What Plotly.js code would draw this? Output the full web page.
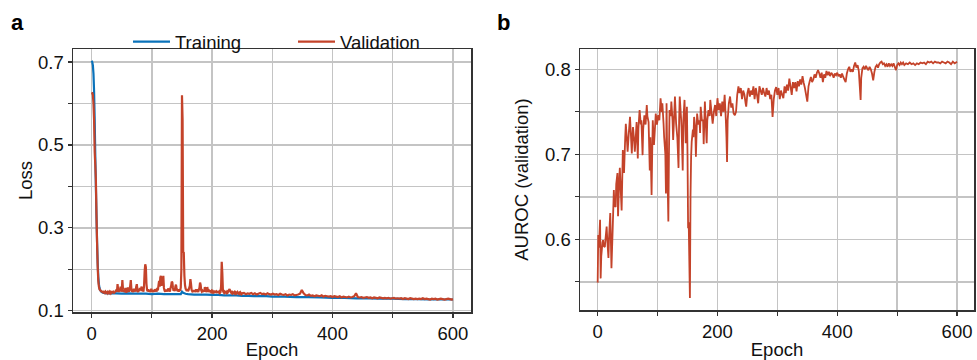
<!DOCTYPE html>
<html>
<head>
<meta charset="utf-8">
<script src="https://cdn.plot.ly/plotly-3.0.1.min.js"></script>
<style>html,body{margin:0;padding:0;background:#fff;}#chart{width:977px;height:360px;}</style>
</head>
<body>
<div id="chart"></div>
<script>
function epochRange(a, b, step) { const r = []; for (let e = a; e <= b; e += step) r.push(e); return r; }

// ---- Panel a: loss ----
const trainEpoch = [0,1,2,3,4,5,6,7,8,9,10,11,12,13,14,16,18,20,25,30,40,50,60,70,80,90,100,110,120,130,140,148,150,152,156,160,170,180,190,200,210,220,230,240,250,260,270,280,290,300,320,340,360,380,400,420,440,460,480,500,520,540,560,580,600];
const trainLoss = [0.703,0.700,0.692,0.672,0.630,0.560,0.475,0.400,0.330,0.265,0.215,0.182,0.164,0.155,0.150,0.146,0.144,0.143,0.142,0.142,0.142,0.141,0.142,0.141,0.141,0.141,0.140,0.141,0.140,0.140,0.140,0.140,0.146,0.143,0.141,0.140,0.139,0.139,0.139,0.138,0.138,0.137,0.137,0.137,0.136,0.136,0.135,0.135,0.135,0.134,0.134,0.133,0.133,0.132,0.131,0.131,0.130,0.130,0.129,0.129,0.128,0.128,0.127,0.127,0.127];

// validation loss, one value per epoch for epochs 0..250
const valLossEarly = [
  0.627,0.625,0.620,0.600,0.560,0.484,0.452,0.415,0.330,0.262,0.205,0.172,0.158,0.152,
  0.150,0.148,0.147,0.146,0.145,0.146,0.144,0.145,0.143,0.146,0.144,0.143,0.145,0.142,0.144,0.146,0.143,0.145,0.142,0.144,0.147,0.143,0.145,0.142,0.146,0.144,0.148,
  0.150,0.146,0.164,0.150,0.145,0.153,0.147,0.158,0.146,0.150,0.174,0.152,0.146,0.149,0.145,0.155,0.147,0.144,0.150,0.156,
  0.148,0.146,0.152,0.160,0.174,0.151,0.146,0.149,0.145,0.153,0.147,0.150,0.146,0.158,0.164,0.149,0.145,0.151,0.147,0.155,
  0.149,0.153,0.158,0.147,0.150,0.146,0.160,0.195,0.212,0.205,0.165,0.150,0.147,0.152,0.146,0.150,0.145,0.148,0.153,0.146,
  0.150,0.145,0.149,0.146,0.152,0.147,0.150,0.146,0.155,0.149,0.162,0.172,0.158,0.180,0.184,0.160,0.182,0.165,0.184,0.155,
  0.149,0.146,0.151,0.147,0.150,0.146,0.154,0.148,0.150,0.146,0.155,0.160,0.170,0.168,0.155,0.148,0.152,0.147,0.158,0.163,0.155,0.149,0.147,0.152,0.146,0.150,0.148,0.156,0.200,
  0.620,0.560,0.242,0.240,0.185,0.162,0.153,
  0.150,0.148,0.152,0.147,0.150,0.155,0.160,0.176,0.165,0.150,0.147,0.149,0.145,0.150,0.146,0.148,0.145,0.152,0.146,0.148,0.145,0.150,0.155,0.168,0.162,0.149,0.146,0.148,0.145,0.150,0.146,0.157,0.152,0.148,0.145,0.157,0.150,0.146,0.148,0.145,0.149,0.146,0.148,0.145,
  0.147,0.144,0.146,0.145,0.148,0.144,0.146,0.143,0.147,0.145,0.144,0.146,0.143,0.145,0.160,0.218,0.190,0.148,0.145,0.143,0.146,0.144,0.145,0.143,0.146,0.144,0.147,0.150,0.152,0.148,0.145,0.143,0.145,0.142,0.144,0.143,0.145,0.142,0.144,0.141,0.143,0.145,0.142,0.141,0.143,0.141,0.144,0.142,0.140,0.142
];
// validation loss, epochs 253..598 every 3 epochs, then 600
const valLossLate = [
  0.143,0.140,0.142,0.141,0.143,0.140,0.142,0.139,0.141,0.143,0.140,0.141,0.139,0.142,0.140,0.139,
  0.141,0.139,0.140,0.138,0.141,0.139,0.138,0.140,0.137,0.139,0.138,0.140,0.137,0.138,0.139,0.141,
  0.150,0.142,0.138,0.137,0.139,0.136,0.137,0.135,0.137,0.136,0.135,0.137,0.134,0.136,0.135,0.134,
  0.135,0.133,0.135,0.134,0.133,0.135,0.132,0.134,0.133,0.132,0.134,0.132,0.133,0.135,0.142,0.133,
  0.132,0.133,0.131,0.132,0.133,0.131,0.132,0.130,0.132,0.131,0.130,0.132,0.131,0.130,0.131,0.130,
  0.131,0.129,0.130,0.131,0.129,0.130,0.129,0.130,0.128,0.130,0.129,0.128,0.130,0.129,0.128,0.129,
  0.128,0.129,0.128,0.130,0.128,0.129,0.128,0.127,0.129,0.128,0.129,0.127,0.128,0.129,0.128,0.127,
  0.128,0.129,0.128,0.127,
  0.128
];
const valEpoch = epochRange(0, 250, 1).concat(epochRange(253, 598, 3), [600]);
const valLoss = valLossEarly.concat(valLossLate);

// ---- Panel b: AUROC ----
const aucEpoch = [0,1,2,4,5,6,8,9,10,12,13,15,16,18,19,21,22,23,25,27,28,30,31,33,34,36,37,39,40,42,43,44,46,47,49,50,52,54,55,57,58,59,61,62,64,65,67,68,70,72,73,75,76,78,80,82,83,85,87,88,90,91,92,94,96,97,99,101,103,105,107,108,110,111,113,114,115,116,118,119,120,122,123,125,126,128,129,131,133,135,136,137,139,140,142,143,145,146,147,149,150,151,152,154,155,156,157,159,160,161,163,164,166,168,170,171,172,174,176,177,179,180,182,183,185,187,188,190,192,194,196,198,200,202,204,206,208,210,212,214,215,216,217,219,221,223,225,227,229,231,233,235,237,239,241,243,245,247,248,250,252,254,256,258,260,262,264,266,268,270,272,274,276,278,280,282,284,286,288,290,292,294,296,298,300,302,304,306,308,310,312,314,316,318,320,322,324,326,328,330,332,334,336,338,340,342,344,346,348,350,352,354,356,358,360,362,364,366,368,370,372,374,376,378,380,382,384,386,388,390,392,394,396,398,400,402,404,406,408,410,412,414,416,418,420,422,424,426,428,430,432,434,436,438,439,440,442,444,446,448,450,452,454,456,458,460,462,464,466,468,470,472,474,476,478,480,482,484,486,488,490,492,494,496,498,500,502,504,506,508,510,512,515,518,521,524,527,530,533,536,539,542,545,548,551,554,557,560,563,566,569,572,575,578,581,584,587,590,593,596,600];
const aucVal = [0.549,0.605,0.590,0.623,0.554,0.580,0.596,0.599,0.592,0.591,0.600,0.615,0.600,0.578,0.602,0.631,0.600,0.566,0.610,0.658,0.640,0.638,0.665,0.678,0.627,0.670,0.684,0.650,0.634,0.705,0.690,0.678,0.720,0.736,0.715,0.703,0.725,0.744,0.730,0.701,0.720,0.732,0.715,0.703,0.725,0.738,0.695,0.730,0.752,0.735,0.740,0.699,0.730,0.746,0.735,0.758,0.745,0.738,0.681,0.720,0.652,0.700,0.740,0.711,0.735,0.748,0.735,0.746,0.740,0.766,0.750,0.760,0.736,0.720,0.700,0.654,0.760,0.700,0.621,0.700,0.752,0.745,0.762,0.740,0.717,0.750,0.768,0.736,0.720,0.684,0.740,0.768,0.745,0.732,0.681,0.740,0.764,0.740,0.713,0.756,0.700,0.613,0.620,0.531,0.650,0.697,0.715,0.729,0.720,0.744,0.730,0.697,0.748,0.735,0.740,0.725,0.756,0.740,0.740,0.712,0.762,0.745,0.713,0.740,0.752,0.745,0.764,0.750,0.736,0.750,0.758,0.745,0.766,0.752,0.760,0.745,0.762,0.750,0.770,0.740,0.720,0.691,0.740,0.760,0.768,0.755,0.760,0.748,0.746,0.750,0.770,0.780,0.772,0.778,0.765,0.775,0.770,0.760,0.756,0.772,0.778,0.768,0.775,0.770,0.780,0.765,0.778,0.770,0.760,0.780,0.775,0.770,0.778,0.772,0.768,0.778,0.770,0.775,0.765,0.770,0.744,0.765,0.775,0.779,0.770,0.778,0.765,0.775,0.770,0.766,0.780,0.772,0.782,0.775,0.789,0.780,0.770,0.785,0.778,0.785,0.774,0.786,0.780,0.788,0.782,0.792,0.784,0.778,0.770,0.762,0.780,0.786,0.791,0.785,0.788,0.794,0.790,0.796,0.799,0.795,0.790,0.796,0.785,0.794,0.790,0.798,0.793,0.797,0.792,0.796,0.794,0.790,0.795,0.793,0.796,0.792,0.794,0.790,0.795,0.791,0.788,0.785,0.795,0.800,0.803,0.797,0.800,0.797,0.804,0.808,0.802,0.805,0.798,0.775,0.764,0.790,0.801,0.803,0.800,0.804,0.801,0.799,0.803,0.800,0.795,0.787,0.797,0.803,0.805,0.802,0.806,0.808,0.809,0.806,0.807,0.804,0.806,0.803,0.807,0.804,0.806,0.804,0.807,0.803,0.799,0.805,0.807,0.805,0.808,0.806,0.808,0.805,0.807,0.806,0.808,0.806,0.807,0.805,0.807,0.806,0.808,0.807,0.808,0.806,0.809,0.808,0.809,0.807,0.809,0.808,0.808,0.807,0.809,0.808,0.807,0.809,0.808,0.806,0.809,0.807,0.809];

const xTickVals = [0,100,200,300,400,500,600];
const xTickText = ['0','','200','','400','','600'];
const lossTickVals = [0.1,0.2,0.3,0.4,0.5,0.6,0.7];
const lossTickText = ['0.1','','0.3','','0.5','','0.7'];
const aucTickVals = [0.55,0.6,0.65,0.7,0.75,0.8];
const aucTickText = ['','0.6','','0.7','','0.8'];

const BLUE = '#0a72ba';
const RED = '#c4432a';
const FONT = 'Liberation Sans, Arial, sans-serif';

const traces = [
  {x: trainEpoch, y: trainLoss, type: 'scatter', mode: 'lines', name: 'Training',
   line: {color: BLUE, width: 2.2, simplify: false}, xaxis: 'x', yaxis: 'y'},
  {x: valEpoch, y: valLoss, type: 'scatter', mode: 'lines', name: 'Validation',
   line: {color: RED, width: 2.2, simplify: false}, xaxis: 'x', yaxis: 'y'},
  {x: aucEpoch, y: aucVal, type: 'scatter', mode: 'lines', name: 'AUROC',
   line: {color: RED, width: 1.8, simplify: false}, xaxis: 'x2', yaxis: 'y2', showlegend: false}
];

const axBase = {
  showgrid: true, gridcolor: '#c4c4c4', gridwidth: 1.5,
  showline: true, mirror: true, linecolor: '#333333', linewidth: 1.5,
  ticks: 'outside', ticklen: 4, tickwidth: 1.2, tickcolor: '#333333',
  zeroline: false, tickfont: {size: 18.5, color: '#111', family: FONT},
  fixedrange: true
};

const layout = {
  width: 977, height: 360,
  margin: {l: 0, r: 0, t: 0, b: 0},
  paper_bgcolor: '#ffffff', plot_bgcolor: '#ffffff',
  font: {family: FONT, size: 18.5, color: '#111'},
  showlegend: true,
  legend: {orientation: 'h', x: 128/977, y: 1 - 23/360, xanchor: 'left', yanchor: 'top',
           itemwidth: 37, entrywidth: 113, entrywidthmode: 'pixels',
           font: {size: 18.5, family: FONT, color: '#111'}, bgcolor: 'rgba(0,0,0,0)', tracegroupgap: 0},
  xaxis: Object.assign({}, axBase, {domain: [73/977, 471/977], range: [-31, 630],
    tickvals: xTickVals, ticktext: xTickText, anchor: 'y',
    title: {text: 'Epoch', font: {size: 18.5, family: FONT}, standoff: 2}}),
  yaxis: Object.assign({}, axBase, {domain: [1 - 312/360, 1 - 49/360], range: [0.0969, 0.7314],
    tickvals: lossTickVals, ticktext: lossTickText, anchor: 'x',
    title: {text: 'Loss', font: {size: 18.5, family: FONT}, standoff: 0}}),
  xaxis2: Object.assign({}, axBase, {domain: [580/977, 974/977], range: [-29.5, 628.3],
    tickvals: xTickVals, ticktext: xTickText, anchor: 'y2',
    title: {text: 'Epoch', font: {size: 18.5, family: FONT}, standoff: 2}}),
  yaxis2: Object.assign({}, axBase, {domain: [1 - 310/360, 1 - 49/360], range: [0.5168, 0.8239],
    tickvals: aucTickVals, ticktext: aucTickText, anchor: 'x2',
    title: {text: 'AUROC (validation)', font: {size: 18.5, family: FONT}, standoff: 11}}),
  annotations: [
    {text: '<b>a</b>', xref: 'paper', yref: 'paper', x: 9/977, y: 1 - 8/360, xanchor: 'left', yanchor: 'top',
     showarrow: false, font: {size: 22, family: FONT, color: '#000'}},
    {text: '<b>b</b>', xref: 'paper', yref: 'paper', x: 495/977, y: 1 - 8/360, xanchor: 'left', yanchor: 'top',
     showarrow: false, font: {size: 22, family: FONT, color: '#000'}}
  ]
};

Plotly.newPlot('chart', traces, layout, {staticPlot: true, displayModeBar: false});
</script>
</body>
</html>
